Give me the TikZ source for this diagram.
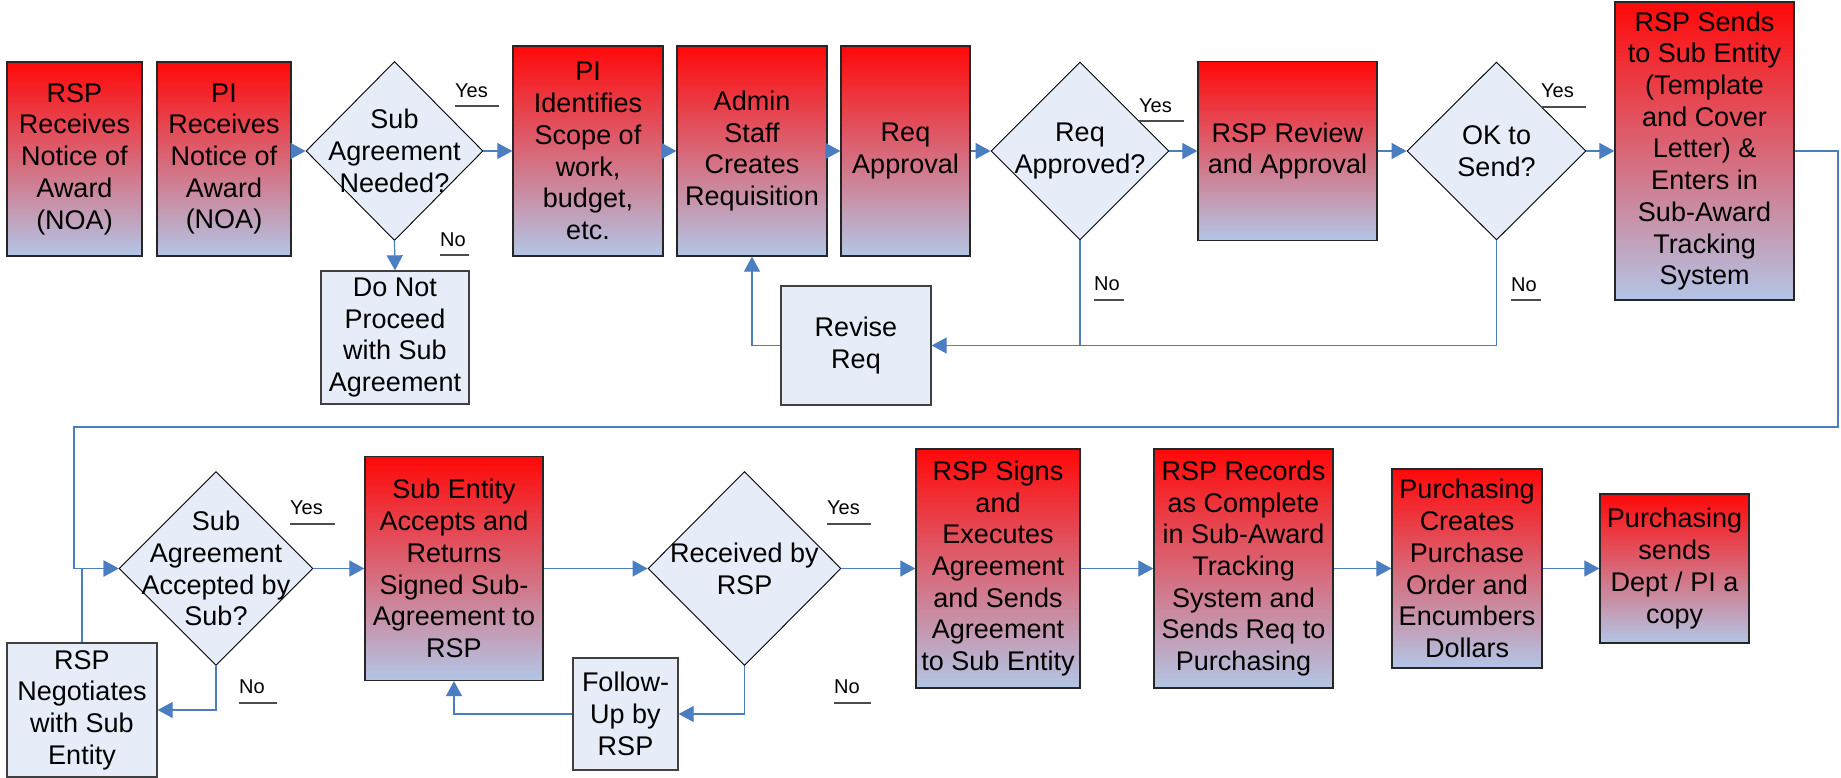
\documentclass[tikz,border=0pt]{standalone}
\usepackage{fontspec}
\setmainfont{Liberation Sans}
\usetikzlibrary{arrows.meta,shapes.geometric}
\definecolor{rtop}{RGB}{255,8,8}
\definecolor{rbot}{RGB}{178,198,230}
\definecolor{lfill}{RGB}{230,237,248}
\definecolor{conn}{RGB}{74,126,193}
\begin{document}
\begin{tikzpicture}[x=1pt,y=-1pt,
  txt/.style={font=\fontsize{27}{31.7}\selectfont, align=center, inner sep=0pt},
  redbox/.style={txt, rectangle, draw=black!85, line width=1.3pt, top color=rtop, bottom color=rbot},
  litebox/.style={txt, rectangle, draw=black!75, line width=1.3pt, fill=lfill},
  dia/.style={diamond, draw=black, line width=0.9pt, fill=lfill, inner sep=0pt},
  diatext/.style={txt},
  lab/.style={font=\fontsize{20}{24}\selectfont, anchor=west, inner sep=0pt},
  uline/.style={draw=black!70, line width=1.2pt},
  link/.style={draw=conn, line width=1.2pt},
  arr/.style={link, -{Triangle[length=15pt,width=16pt]}, color=conn}
]
\fill[white] (0,0) rectangle (1841,778);
\useasboundingbox (0,0) rectangle (1841,778);

% ---- row 1 ----
\node[redbox, minimum width=135pt, minimum height=194pt] (a) at (74.5,159) {RSP\\Receives\\Notice of\\Award\\(NOA)};
\node[redbox, minimum width=134pt, minimum height=194pt] (b) at (224,159) {PI\\Receives\\Notice of\\Award\\(NOA)};
\node[dia, minimum width=177pt, minimum height=179pt] (d1) at (394.5,151) {};
\node[diatext] (d1t) at (d1) {Sub\\Agreement\\Needed?};
\node[litebox, minimum width=148pt, minimum height=133pt] (dnp) at (395,337.5) {Do Not\\Proceed\\with Sub\\Agreement};
\node[redbox, minimum width=150pt, minimum height=210pt] (c) at (588,151) {PI\\Identifies\\Scope of\\work,\\budget,\\etc.};
\node[redbox, minimum width=150pt, minimum height=210pt] (d) at (752,151) {Admin\\Staff\\Creates\\Requisition};
\node[redbox, minimum width=129pt, minimum height=210pt] (e) at (905.5,151) {Req\\Approval};
\node[dia, minimum width=178pt, minimum height=178pt] (d2) at (1080,151) {};
\node[diatext] (d2t) at (d2) {Req\\Approved?};
\node[litebox, minimum width=150pt, minimum height=119pt] (rev) at (856,345.5) {Revise\\Req};
\node[redbox, minimum width=179pt, minimum height=179pt] (f) at (1287.5,151) {RSP Review\\and Approval};
\node[dia, minimum width=179pt, minimum height=178pt] (d3) at (1496.5,151) {};
\node[diatext] (d3t) at (d3) {OK to\\Send?};
\node[redbox, minimum width=179pt, minimum height=298pt] (g) at (1704.5,151) {RSP Sends\\to Sub Entity\\(Template\\and Cover\\Letter) \&\\Enters in\\Sub-Award\\Tracking\\System};

% ---- row 2 ----
\node[dia, minimum width=194pt, minimum height=194pt] (d4) at (216,568.5) {};
\node[diatext] (d4t) at (d4) {Sub\\Agreement\\Accepted by\\Sub?};
\node[litebox, minimum width=150pt, minimum height=134pt] (neg) at (82,710) {RSP\\Negotiates\\with Sub\\Entity};
\node[redbox, minimum width=178pt, minimum height=224pt] (h) at (454,568.5) {Sub Entity\\Accepts and\\Returns\\Signed Sub-\\Agreement to\\RSP};
\node[dia, minimum width=193pt, minimum height=194pt] (d5) at (744.5,568.5) {};
\node[diatext] (d5t) at (d5) {Received by\\RSP};
\node[litebox, minimum width=105pt, minimum height=112pt] (fu) at (625.5,714) {Follow-\\Up by\\RSP};
\node[redbox, minimum width=164pt, minimum height=239pt] (i) at (998,568.5) {RSP Signs\\and\\Executes\\Agreement\\and Sends\\Agreement\\to Sub Entity};
\node[redbox, minimum width=179pt, minimum height=239pt] (j) at (1243.5,568.5) {RSP Records\\as Complete\\in Sub-Award\\Tracking\\System and\\Sends Req to\\Purchasing};
\node[redbox, minimum width=150pt, minimum height=199pt] (k) at (1467,568.5) {Purchasing\\Creates\\Purchase\\Order and\\Encumbers\\Dollars};
\node[redbox, minimum width=149pt, minimum height=149pt] (l) at (1674.5,568.5) {Purchasing\\sends\\Dept / PI a\\copy};

% ---- labels ----
\node[lab] (y1) at (455,91) {Yes};
\node[lab] (n1) at (440,240) {No};
\node[lab] (y2) at (1139,106) {Yes};
\node[lab] (n2) at (1094,284) {No};
\node[lab] (y3) at (1541,91) {Yes};
\node[lab] (n3) at (1511,285) {No};
\node[lab] (y4) at (290,508) {Yes};
\node[lab] (n4) at (239,687) {No};
\node[lab] (y5) at (827,508) {Yes};
\node[lab] (n5) at (834,687) {No};
\draw[uline] ([yshift=-15pt]y1.west) -- ++(44,0);
\draw[uline] ([yshift=-15pt]n1.west) -- ++(29,0);
\draw[uline] ([yshift=-15pt]y2.west) -- ++(45,0);
\draw[uline] ([yshift=-16pt]n2.west) -- ++(30,0);
\draw[uline] ([yshift=-16pt]y3.west) -- ++(45,0);
\draw[uline] ([yshift=-15pt]n3.west) -- ++(30,0);
\draw[uline] ([yshift=-16pt]y4.west) -- ++(45,0);
\draw[uline] ([yshift=-16pt]n4.west) -- ++(38,0);
\draw[uline] ([yshift=-16pt]y5.west) -- ++(44,0);
\draw[uline] ([yshift=-16pt]n5.west) -- ++(37,0);

% ---- connectors row 1 ----
\draw[arr] (b.east |- d1.west) -- (d1.west);
\draw[arr] (d1.east) -- (c.west);
\draw[arr] (d1.south) -- (dnp.north);
\draw[arr] (c.east) -- (d.west);
\draw[arr] (d.east) -- (e.west);
\draw[arr] (e.east) -- (d2.west);
\draw[arr] (d2.east) -- (f.west);
\draw[arr] (f.east) -- (d3.west);
\draw[arr] (d3.east) -- (g.west);
\draw[link] (d2.south) -- (d2.south |- rev.east);
\draw[arr] (d3.south) |- (rev.east);
\draw[arr] (rev.west) -| (d.south);

% ---- wrap-around ----
\coordinate (r1) at (1838,151);
\coordinate (r2) at (1838,427);
\coordinate (l1) at (74,427);
\draw[arr] (g.east) -- (r1) -- (r2) -- (l1) |- (d4.west);
\draw[arr] (neg.north) |- (d4.west);

% ---- connectors row 2 ----
\draw[arr] (d4.east) -- (h.west);
\draw[arr] (d4.south) |- (neg.east);
\draw[arr] (h.east) -- (d5.west);
\draw[arr] (d5.south) |- (fu.east);
\draw[arr] (fu.west) -| (h.south);
\draw[arr] (d5.east) -- (i.west);
\draw[arr] (i.east) -- (j.west);
\draw[arr] (j.east) -- (k.west);
\draw[arr] (k.east) -- (l.west);
\end{tikzpicture}
\end{document}
